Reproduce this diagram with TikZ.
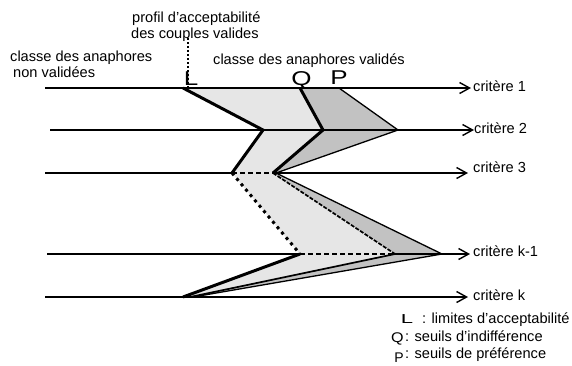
\documentclass[tikz,border=0pt]{standalone}
\usepackage{fontspec}
\setmainfont{Liberation Sans}
\usetikzlibrary{arrows.meta}
\definecolor{zoneQ}{HTML}{E6E6E6}
\definecolor{zoneP}{HTML}{C2C2C2}
\tikzset{
  txt/.style={font=\fontsize{14.6}{17}\selectfont, inner sep=0pt, anchor=base west},
  bigletter/.style={font=\fontsize{20}{22}\selectfont, inner sep=0pt, anchor=base},
  axisline/.style={line width=1.4pt},
  axisarrow/.style={axisline, -{Straight Barb[length=10pt,width=11pt,line width=1.4pt]}},
  axisdash/.style={line width=1.4pt, dash pattern=on 5pt off 3pt},
  profbold/.style={line width=3pt},
  profdotted/.style={line width=3pt, dash pattern=on 3pt off 4pt},
  profdashed/.style={line width=1.7pt, dash pattern=on 4pt off 1.5pt},
  profthin/.style={line width=1.3pt},
  pointer/.style={line width=2.6pt, dash pattern=on 2pt off 2pt}
}
\begin{document}
\begin{tikzpicture}[x=1pt,y=-1pt]
\useasboundingbox (0,0) rectangle (572,365);

% profile points on the five criteria
\coordinate (L1) at (183,88);  \coordinate (Q1) at (300,88);  \coordinate (P1) at (339,88);
\coordinate (L2) at (263,130); \coordinate (Q2) at (323,130); \coordinate (P2) at (398,130);
\coordinate (L3) at (232,173); \coordinate (Q3) at (273,173); \coordinate (P3) at (276,173);
\coordinate (L4) at (300,254); \coordinate (Q4) at (395,254); \coordinate (P4) at (442,254);
\coordinate (L5) at (183,297); \coordinate (Q5) at (190,297); \coordinate (P5) at (193,297);

% shaded zones between the profiles
\fill[zoneQ] (L1)--(Q1)--(Q2)--(Q3)--(Q4)--(Q5)--(L5)--(L4)--(L3)--(L2)--cycle;
\fill[zoneP] (Q1)--(P1)--(P2)--(P3)--(P4)--(P5)--(Q5)--(Q4)--(Q3)--(Q2)--cycle;

% criterion axes
\coordinate (a1s) at (45,88);  \coordinate (a1e) at (471,88);
\coordinate (a2s) at (50,130); \coordinate (a2e) at (474,130);
\coordinate (a3s) at (45,173); \coordinate (a3e) at (468,173);
\coordinate (a4s) at (47,254); \coordinate (a4e) at (470,254);
\coordinate (a5s) at (45,297); \coordinate (a5e) at (468,297);

\draw[axisarrow] (a1s) -- (a1e);
\draw[axisarrow] (a2s) -- (a2e);
\draw[axisline] (a3s) -- (L3);
\draw[axisdash] (L3) -- (Q3);
\draw[axisarrow] (Q3) -- (a3e);
\draw[axisline] (a4s) -- (L4);
\draw[axisdash] (L4) -- (Q4);
\draw[axisarrow] (Q4) -- (a4e);
\draw[axisarrow] (a5s) -- (a5e);
\draw[line width=2.2pt] (L1) -- (P1);

% acceptability limits L
\draw[profbold] (L1) -- (L2) -- (L3);
\draw[profdotted] (L3) -- (L4);
\draw[profbold] (L4) -- (L5);
% indifference thresholds Q
\draw[profbold] (Q1) -- (Q2) -- (Q3);
\draw[profdashed] (Q3) -- (Q4);
\draw[line width=1.7pt] (Q4) -- (Q5);
% preference thresholds P
\draw[profthin] (P1) -- (P2) -- (P3) -- (P4) -- (P5);

% pointer to the acceptability profile
\coordinate (ptop) at (188,38);
\coordinate (pbot) at (188,87);
\draw[pointer] (ptop) -- (pbot);

% texts
\node[txt] (t1) at (132,22.5) {profil d'acceptabilité};
\node[txt] (t2) at (131,38) {des couples valides};
\node[txt] (t3) at (10,61) {classe des anaphores};
\node[txt] (t4) at (13,77) {non validées};
\node[txt] (t5) at (213,64) {classe des anaphores validés};
\node[bigletter] (lL) at (191,85) {\scalebox{1.3}[1]{L}};
\node[bigletter] (lQ) at (301.5,85) {\scalebox{1.3}[1]{Q}};
\node[bigletter] (lP) at (339,84) {\scalebox{1.3}[1]{P}};

\node[txt] (c1) at (473,91) {critère 1};
\node[txt] (c2) at (474,133) {critère 2};
\node[txt] (c3) at (473,172) {critère 3};
\node[txt] (c4) at (473,256) {critère k-1};
\node[txt] (c5) at (473,300) {critère k};

% legend
\node[font=\fontsize{13}{14}\selectfont, inner sep=0pt, anchor=base] (gL) at (407,323.5) {\scalebox{1.7}[1]{L}};
\node[txt] (gLt) at (422,323) {: limites d'acceptabilité};
\node[font=\fontsize{14}{15}\selectfont, inner sep=0pt, anchor=base] (gQ) at (397.5,342) {\scalebox{1.15}[1]{Q}};
\node[txt] (gQt) at (405,341) {: seuils d'indifférence};
\node[font=\fontsize{14}{15}\selectfont, inner sep=0pt, anchor=base] (gP) at (399,362) {P};
\node[txt] (gPt) at (405,358) {: seuils de préférence};
\end{tikzpicture}
\end{document}
